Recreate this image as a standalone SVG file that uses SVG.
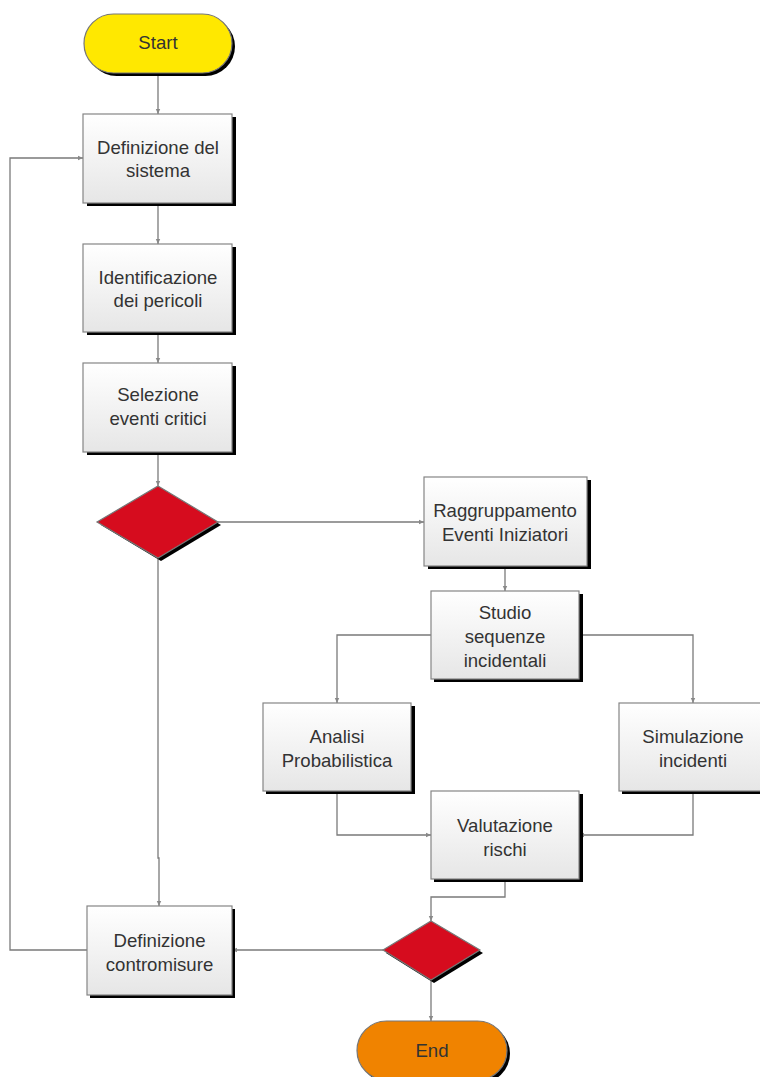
<svg xmlns="http://www.w3.org/2000/svg" width="760" height="1077" viewBox="0 0 760 1077">
  <defs>
    <linearGradient id="boxFill" x1="0" y1="0" x2="0" y2="1">
      <stop offset="0" stop-color="#ffffff"/>
      <stop offset="1" stop-color="#e6e6e6"/>
    </linearGradient>
    <marker id="arr" markerWidth="6" markerHeight="6" refX="5" refY="3" orient="auto" markerUnits="userSpaceOnUse">
      <path d="M0,0.8 L5,3 L0,5.2 Z" fill="#888"/>
    </marker>
    <style>
      .shadow { fill: #000; }
      .box { fill: url(#boxFill); stroke: #858585; stroke-width: 1.2; }
      .dec { fill: #d60c1e; stroke: #777; stroke-width: 1.2; }
      .label { font-family: "Liberation Sans", Arial, sans-serif; font-size: 18.6px; fill: #333; text-anchor: middle; }
      .conn { fill: none; stroke: #7a7a7a; stroke-width: 1.3; marker-end: url(#arr); }
    </style>
  </defs>

  <rect width="760" height="1077" fill="#fff"/>

  <g id="connectors">
    <path class="conn" d="M158,73 V114"/>
    <path class="conn" d="M87,950 H10 V158 H83"/>
    <path class="conn" d="M158,203 V244"/>
    <path class="conn" d="M158,332 V363"/>
    <path class="conn" d="M158,452 V486"/>
    <path class="conn" d="M218,522 H424"/>
    <path class="conn" d="M158,558 V858 H159 V906"/>
    <path class="conn" d="M505,566 V591"/>
    <path class="conn" d="M431,635 H337 V703"/>
    <path class="conn" d="M579,635 H693 V703"/>
    <path class="conn" d="M337,791 V835 H431"/>
    <path class="conn" d="M693,791 V835 H579"/>
    <path class="conn" d="M505,879 V897 H431 V921"/>
    <path class="conn" d="M383,950 H232"/>
    <path class="conn" d="M431,980 V1021"/>
  </g>

  <g id="start">
    <rect class="shadow" x="87" y="17" width="148" height="59" rx="29.5"/>
    <rect x="84" y="14" width="148" height="59" rx="29.5" fill="#ffe800" stroke="#777" stroke-width="1.2"/>
    <text class="label" x="158" y="49">Start</text>
  </g>

  <g id="definizione-sistema">
    <rect class="shadow" x="87" y="117" width="149" height="89"/>
    <rect class="box" x="83" y="114" width="149" height="89"/>
    <text class="label" x="158" y="154">Definizione del</text>
    <text class="label" x="158" y="177">sistema</text>
  </g>

  <g id="identificazione-pericoli">
    <rect class="shadow" x="87" y="247" width="149" height="88"/>
    <rect class="box" x="83" y="244" width="149" height="88"/>
    <text class="label" x="158" y="284">Identificazione</text>
    <text class="label" x="158" y="307">dei pericoli</text>
  </g>

  <g id="selezione-eventi">
    <rect class="shadow" x="87" y="366" width="149" height="89"/>
    <rect class="box" x="83" y="363" width="149" height="89"/>
    <text class="label" x="158" y="401">Selezione</text>
    <text class="label" x="158" y="425">eventi critici</text>
  </g>

  <g id="decisione-1">
    <polygon class="shadow" points="161,489 221,525 161,561 101,525"/>
    <polygon class="dec" points="158,486 218,522 158,558 97,522"/>
  </g>

  <g id="raggruppamento">
    <rect class="shadow" x="428" y="480" width="163" height="89"/>
    <rect class="box" x="424" y="477" width="163" height="89"/>
    <text class="label" x="505" y="517">Raggruppamento</text>
    <text class="label" x="505" y="541">Eventi Iniziatori</text>
  </g>

  <g id="studio-sequenze">
    <rect class="shadow" x="434" y="594" width="149" height="88"/>
    <rect class="box" x="431" y="591" width="148" height="88"/>
    <text class="label" x="505" y="619">Studio</text>
    <text class="label" x="505" y="643">sequenze</text>
    <text class="label" x="505" y="667">incidentali</text>
  </g>

  <g id="analisi-probabilistica">
    <rect class="shadow" x="266" y="706" width="149" height="88"/>
    <rect class="box" x="263" y="703" width="148" height="88"/>
    <text class="label" x="337" y="743">Analisi</text>
    <text class="label" x="337" y="767">Probabilistica</text>
  </g>

  <g id="simulazione-incidenti">
    <rect class="shadow" x="622" y="706" width="149" height="88"/>
    <rect class="box" x="619" y="703" width="148" height="88"/>
    <text class="label" x="693" y="743">Simulazione</text>
    <text class="label" x="693" y="767">incidenti</text>
  </g>

  <g id="valutazione-rischi">
    <rect class="shadow" x="434" y="794" width="149" height="88"/>
    <rect class="box" x="431" y="791" width="148" height="88"/>
    <text class="label" x="505" y="832">Valutazione</text>
    <text class="label" x="505" y="856">rischi</text>
  </g>

  <g id="definizione-contromisure">
    <rect class="shadow" x="90" y="909" width="145" height="89"/>
    <rect class="box" x="87" y="906" width="145" height="89"/>
    <text class="label" x="159.5" y="947">Definizione</text>
    <text class="label" x="159.5" y="971">contromisure</text>
  </g>

  <g id="decisione-2">
    <polygon class="shadow" points="434,924 483,953 434,983 386,953"/>
    <polygon class="dec" points="431,921 480,950 431,980 383,950"/>
  </g>

  <g id="end">
    <rect class="shadow" x="360" y="1024" width="150" height="59" rx="29.5"/>
    <rect x="357" y="1021" width="150" height="59" rx="29.5" fill="#f08300" stroke="#777" stroke-width="1.2"/>
    <text class="label" x="432" y="1057">End</text>
  </g>
</svg>
